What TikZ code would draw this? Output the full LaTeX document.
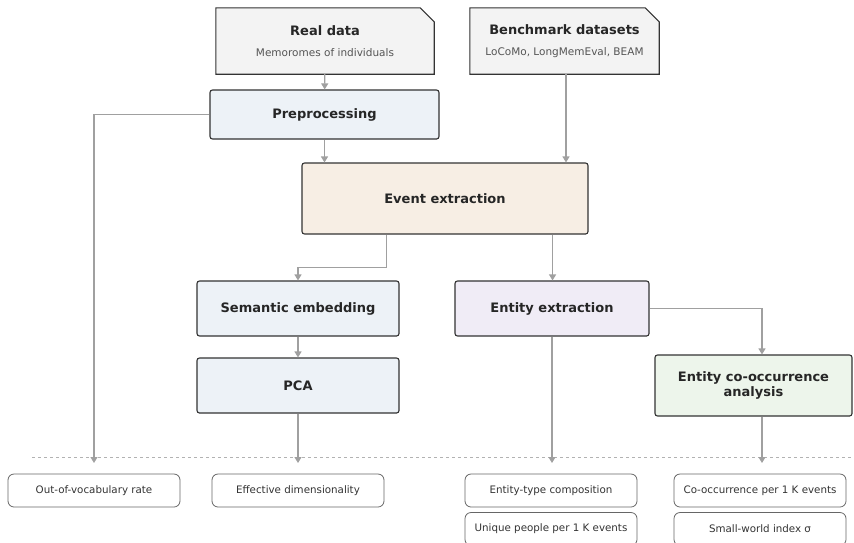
\documentclass[tikz,border=0pt]{standalone}
\usepackage{fontspec}
\setmainfont{DejaVu Sans}
\usetikzlibrary{arrows.meta,backgrounds}

\definecolor{datafill}{HTML}{F3F3F3}
\definecolor{prepfill}{HTML}{EDF2F7}
\definecolor{eventfill}{HTML}{F7EEE4}
\definecolor{entfill}{HTML}{F0ECF6}
\definecolor{coocfill}{HTML}{EDF5EB}
\definecolor{edge}{HTML}{333333}
\definecolor{wire}{HTML}{A0A0A0}
\definecolor{subtxt}{HTML}{555555}

\tikzset{
  stage/.style={draw=edge, line width=1.1pt, rounded corners=2.5pt, align=center,
    font=\fontsize{13}{15.5}\selectfont\bfseries, text=black!85},
  source/.style={align=center, font=\fontsize{13}{15.5}\selectfont\bfseries, text=black!85},
  metric/.style={draw=black!60, line width=0.8pt, rounded corners=6pt, fill=white,
    minimum width=172pt, minimum height=33pt, font=\fontsize{10.3}{12}\selectfont, text=black!80},
  arr/.style={draw=wire, line width=1.1pt, -{Triangle[width=7pt,length=6pt]}},
}

\begin{document}
\begin{tikzpicture}[x=1pt,y=-1pt]
\useasboundingbox (0,0) rectangle (854,542);

% inputs
\node[source, minimum width=218pt, minimum height=66pt] (realdata) at (325,41)
  {Real data\\[6pt]{\fontsize{10.5}{12}\selectfont\mdseries\color{subtxt}Memoromes of individuals}};
\node[source, minimum width=189pt, minimum height=66pt] (bench) at (564.5,41)
  {Benchmark datasets\\[6pt]{\fontsize{10.5}{12}\selectfont\mdseries\color{subtxt}LoCoMo, LongMemEval, BEAM}};
\begin{pgfonlayer}{background}
\foreach \n in {realdata,bench}
  \draw[draw=edge, line width=1.1pt, fill=datafill]
    (\n.south west) -- (\n.north west) -- ([xshift=-14pt]\n.north east)
    -- ([yshift=-14pt]\n.north east) -- (\n.south east) -- cycle;
\end{pgfonlayer}

% pipeline
\node[stage, fill=prepfill, minimum width=229pt, minimum height=49pt] (prep) at (324.5,114.5) {Preprocessing};
\node[stage, fill=eventfill, minimum width=286pt, minimum height=71pt] (event) at (445,198.5) {Event extraction};
\node[stage, fill=prepfill, minimum width=202pt, minimum height=55pt] (semb) at (298,308.5) {Semantic embedding};
\node[stage, fill=prepfill, minimum width=202pt, minimum height=55pt] (pca) at (298,385.5) {PCA};
\node[stage, fill=entfill, minimum width=194pt, minimum height=55pt] (entx) at (552,308.5) {Entity extraction};
\node[stage, fill=coocfill, minimum width=197pt, minimum height=61pt] (cooc) at (753.5,385.5)
  {Entity co-occurrence\\analysis};

% metrics
\draw[black!30, line width=0.8pt, dash pattern=on 3pt off 3pt] (32,457) -- (854,457);
\coordinate (tipline) at (0,463);
\node[metric] (oov) at (94,490.5) {Out-of-vocabulary rate};
\node[metric] (effdim) at (298,490.5) {Effective dimensionality};
\node[metric] (etype) at (551,490.5) {Entity-type composition};
\node[metric] (uniq) at (551,529) {Unique people per 1 K events};
\node[metric] (cooc1k) at (760,490.5) {Co-occurrence per 1 K events};
\node[metric] (swi) at (760,529) {Small-world index σ};

% connectors
\draw[arr] (realdata) -- (prep);
\draw[arr] (prep.south) -- (prep.south |- event.north);
\draw[arr] ([xshift=1.5pt]bench.south) -- ([xshift=1.5pt]bench.south |- event.north);
\draw[arr] (prep.west) -| (oov.north |- tipline);
\draw[arr] ([xshift=85pt]event.south west) -- ++(0,33) -| (semb.north);
\draw[arr] ([xshift=-36pt]event.south east) -- ([xshift=-36pt]event.south east |- entx.north);
\draw[arr] (semb) -- (pca);
\draw[arr] (pca.south) -- (pca.south |- tipline);
\draw[arr] (entx.south) -- (entx.south |- tipline);
\draw[arr] (entx.east) -| ([xshift=8.5pt]cooc.north);
\draw[arr] ([xshift=8.5pt]cooc.south) -- ([xshift=8.5pt]cooc.south |- tipline);
\end{tikzpicture}
\end{document}
